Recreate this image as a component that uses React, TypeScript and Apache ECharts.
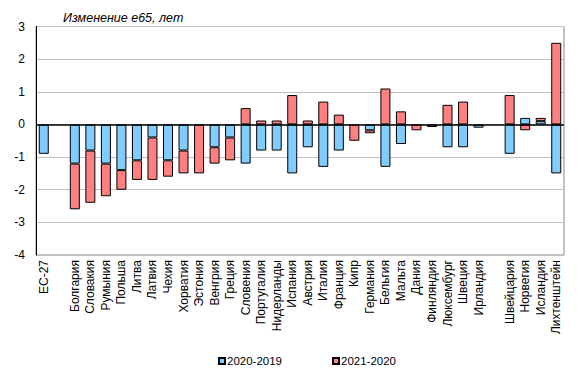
import React, { useEffect, useRef } from "react";
import * as echarts from "echarts";

const categories = [
  "ЕС-27", "", "Болгария", "Словакия", "Румыния", "Польша", "Литва", "Латвия", "Чехия",
  "Хорватия", "Эстония", "Венгрия", "Греция", "Словения", "Португалия", "Нидерланды",
  "Испания", "Австрия", "Италия", "Франция", "Кипр", "Германия", "Бельгия", "Мальта",
  "Дания", "Финляндия", "Люксембург", "Швеция", "Ирландия", "", "Швейцария", "Норвегия",
  "Исландия", "Лихтенштейн",
];

const change2020_2019 = [
  -0.9, null, -1.2, -0.8, -1.2, -1.4, -1.1, -0.4, -1.1,
  -0.8, null, -0.7, -0.4, -1.2, -0.8, -0.8,
  -1.5, -0.7, -1.3, -0.8, null, -0.18, -1.3, -0.6,
  null, null, -0.7, -0.7, -0.1, null, -0.9, 0.2,
  0.1, -1.5,
];

const change2021_2020 = [
  null, null, -1.4, -1.6, -1.0, -0.6, -0.6, -1.3, -0.5,
  -0.7, -1.5, -0.5, -0.7, 0.5, 0.12, 0.12,
  0.9, 0.12, 0.7, 0.3, -0.5, -0.09, 1.1, 0.4,
  -0.18, -0.08, 0.6, 0.7, null, null, 0.9, -0.18,
  0.1, 2.5,
];

const yTicks = { min: -4, max: 3, interval: 1 };

const FONT = "Liberation Sans, Arial, sans-serif";

export default function App() {
  const ref = useRef<HTMLDivElement>(null);
  useEffect(() => {
    if (!ref.current) return;
    const chart = echarts.init(ref.current, undefined, { renderer: "svg" });
    chart.setOption({
      animation: false,
      title: {
        text: "Изменение е65, лет",
        left: 58,
        top: 6,
        textStyle: { fontFamily: FONT, fontSize: 12.5, fontStyle: "italic", fontWeight: "normal", color: "#000" },
      },
      legend: {
        left: 213,
        top: 350,
        itemWidth: 6,
        itemHeight: 6,
        itemGap: 50,
        icon: "rect",
        textStyle: { fontFamily: FONT, fontSize: 11.5, color: "#000", padding: [0, 0, 0, -3] },
        data: ["2020-2019", "2021-2020"],
      },
      grid: {
        left: 36,
        right: 15,
        top: 26.5,
        bottom: 119,
        show: true,
        borderColor: "#888",
        borderWidth: 1,
        backgroundColor: "#fff",
      },
      xAxis: {
        type: "category",
        data: categories,
        axisLine: { show: false },
        axisTick: { show: false },
        axisLabel: {
          rotate: 90,
          interval: 0,
          fontFamily: FONT,
          fontSize: 12,
          color: "#000",
          margin: 5,
        },
      },
      yAxis: {
        type: "value",
        min: yTicks.min,
        max: yTicks.max,
        interval: yTicks.interval,
        axisLine: { show: true, lineStyle: { color: "#000", width: 1 } },
        axisTick: { show: false },
        axisLabel: { fontFamily: FONT, fontSize: 12, color: "#000", margin: 11 },
        splitLine: { show: true, lineStyle: { color: "#c0c0c0", width: 1 } },
      },
      series: [
        {
          name: "2020-2019",
          type: "bar",
          stack: "total",
          data: change2020_2019,
          barWidth: 10,
          itemStyle: { color: "#80ccff", borderColor: "#000", borderWidth: 1 },
          markLine: {
            silent: true,
            symbol: "none",
            label: { show: false },
            lineStyle: { color: "#000", width: 1.5, type: "solid" },
            data: [{ yAxis: 0 }],
            z: 10,
          },
        },
        {
          name: "2021-2020",
          type: "bar",
          stack: "total",
          data: change2021_2020,
          barWidth: 10,
          itemStyle: { color: "#ff8080", borderColor: "#000", borderWidth: 1 },
        },
      ],
    });
    return () => chart.dispose();
  }, []);
  return <div ref={ref} style={{ width: 579, height: 374, position: "absolute", left: 0, top: 0 }} />;
}
